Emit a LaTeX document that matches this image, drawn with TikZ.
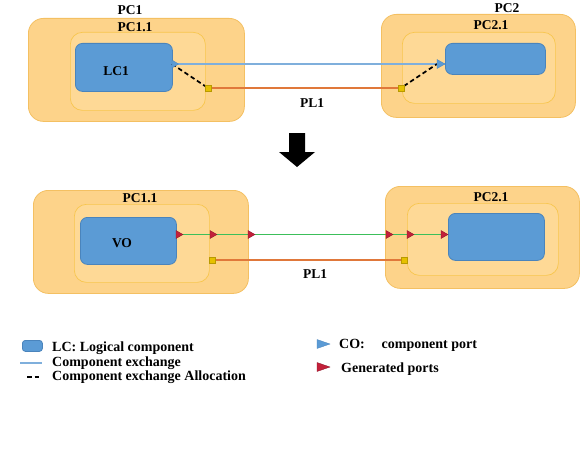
\documentclass[tikz,border=0pt]{standalone}
\usepackage{fontspec}
\setmainfont{Liberation Serif}
\usetikzlibrary{arrows.meta}
\definecolor{orF}{HTML}{FDD38A}
\definecolor{orD}{HTML}{F4C062}
\definecolor{inF}{HTML}{FED996}
\definecolor{inD}{HTML}{F8C64E}
\definecolor{lcF}{HTML}{5B9BD5}
\definecolor{lcD}{HTML}{4A84BC}
\definecolor{exB}{HTML}{7FAFDC}
\definecolor{plO}{HTML}{E0783A}
\definecolor{gnL}{HTML}{3CBF5A}
\definecolor{rdP}{HTML}{C3203A}
\definecolor{ylP}{HTML}{E6C000}
\begin{document}
\begin{tikzpicture}[x=1pt,y=-1pt,
  pcouter/.style={draw=orD, fill=orF, line width=0.8pt, rounded corners=15pt, anchor=north west, inner sep=0pt},
  pcinner/.style={draw=inD, fill=inF, line width=0.7pt, rounded corners=12pt, anchor=north west, inner sep=0pt},
  lcbox/.style={draw=lcD, fill=lcF, line width=0.8pt, rounded corners=7pt, anchor=north west, inner sep=0pt},
  lbl/.style={font=\fontsize{13.5}{15}\selectfont\bfseries, anchor=base, inner sep=0pt},
  leg/.style={font=\fontsize{14}{16}\selectfont\bfseries, anchor=base west, inner sep=0pt},
  bluetri/.style={fill=lcF, draw=lcD, line width=0.3pt},
  redtri/.style={fill=rdP, draw=rdP!70!black, line width=0.3pt},
  ysq/.style={fill=ylP, draw=ylP!80!black, line width=0.3pt, minimum size=5.5pt, inner sep=0pt},
  exline/.style={draw=exB, line width=1.5pt},
  plline/.style={draw=plO, line width=1.2pt},
  gnline/.style={draw=gnL, line width=1.5pt},
  alloc/.style={draw=black, line width=1.7pt, dash pattern=on 4.5pt off 3pt}
]
\useasboundingbox (0,0) rectangle (585,460);
\fill[white] (0,0) rectangle (585,460);

% ---------- top part ----------
\node[pcouter, minimum width=216pt, minimum height=103pt] (pc1) at (28,18) {};
\node[pcinner, minimum width=135pt, minimum height=78pt] (pc11) at (70,32) {};
\node[lcbox, minimum width=97pt, minimum height=48pt] (lc1) at (75,43) {};
\node[pcouter, minimum width=194pt, minimum height=103pt] (pc2) at (381,14) {};
\node[pcinner, minimum width=153pt, minimum height=71pt] (pc21) at (402,32) {};
\node[lcbox, minimum width=100pt, minimum height=31pt] (lc2) at (445,43) {};

\node[lbl] (tpc1) at (130,15) {PC1};
\node[lbl] (tpc11) at (135,31) {PC1.1};
\node[lbl] (tlc1) at (116,75) {LC1};
\node[lbl] (tpc2) at (507,13) {PC2};
\node[lbl] (tpc21) at (491,30) {PC2.1};
\node[lbl] (tpl1) at (312,107) {PL1};

\coordinate (p1) at (172,64);
\coordinate (p2) at (445,64);
\node[ysq] (y1) at (208,88) {};
\node[ysq] (y2) at (401,88) {};

\draw[plline] (y1) -- (y2);
\draw[exline] (p1) -- (p2);
\draw[alloc] (p1) -- (y1);
\draw[alloc] (y2) -- ([xshift=-8pt]p2);
\fill[bluetri] (p1) ++(0,-4) -- ++(6.5,4) -- ++(-6.5,4) -- cycle;
\fill[bluetri] (p2) ++(-8,-4.5) -- ++(8,4.5) -- ++(-8,4.5) -- cycle;
\node[ysq] at (y1) {};
\node[ysq] at (y2) {};

% ---------- arrow ----------
\fill[black] (289,133) -- (305,133) -- (305,152) -- (315,152) -- (297,167) -- (279,152) -- (289,152) -- cycle;

% ---------- bottom part ----------
\node[pcouter, minimum width=215pt, minimum height=103pt] (bpc1) at (33,190) {};
\node[pcinner, minimum width=135pt, minimum height=78pt] (bpc11) at (74,204) {};
\node[lcbox, minimum width=96pt, minimum height=47pt] (vo) at (80,217) {};
\node[pcouter, minimum width=194pt, minimum height=102pt] (bpc2) at (385,186) {};
\node[pcinner, minimum width=151pt, minimum height=72pt] (bpc21) at (407,203) {};
\node[lcbox, minimum width=96pt, minimum height=47pt] (blc2) at (448,213) {};

\node[lbl] (tbpc11) at (140,202) {PC1.1};
\node[lbl] (tvo) at (122,247) {VO};
\node[lbl] (tbpc21) at (491,201) {PC2.1};
\node[lbl] (tbpl1) at (315,278) {PL1};

\coordinate (g1) at (176,234.5);
\coordinate (g6) at (448,234.5);
\node[ysq] (y3) at (212,260) {};
\node[ysq] (y4) at (404,260) {};
\draw[plline] (y3) -- (y4);
\draw[gnline] (g1) -- (g6);
\foreach \xx in {176,210,248,386,407,441}{
  \fill[redtri] (\xx,230.5) -- ++(7,4) -- ++(-7,4) -- cycle;
}
\node[ysq] at (y3) {};
\node[ysq] at (y4) {};

% ---------- legend ----------
\node[lcbox, minimum width=20pt, minimum height=11pt, rounded corners=3pt] (leglc) at (22,340) {};
\node[leg] (t1) at (52,351) {LC: Logical component};
\coordinate (la) at (20,363);
\coordinate (lb) at (42,363);
\draw[exline] (la) -- (lb);
\node[leg] (t2) at (52,366) {Component exchange};
\coordinate (lc) at (27,377);
\coordinate (ld) at (42,377);
\draw[alloc, line width=1.4pt] (lc) -- (ld);
\node[leg] (t3) at (52,380.5) {Component exchange Allocation};

\fill[bluetri] (317,339.5) -- (330,344) -- (317,348.5) -- cycle;
\node[leg] (t4) at (339,348) {CO:\hspace{1.2em}component port};
\fill[redtri] (317,362.5) -- (330,367) -- (317,371.5) -- cycle;
\node[leg] (t5) at (341,372) {Generated ports};
\end{tikzpicture}
\end{document}
